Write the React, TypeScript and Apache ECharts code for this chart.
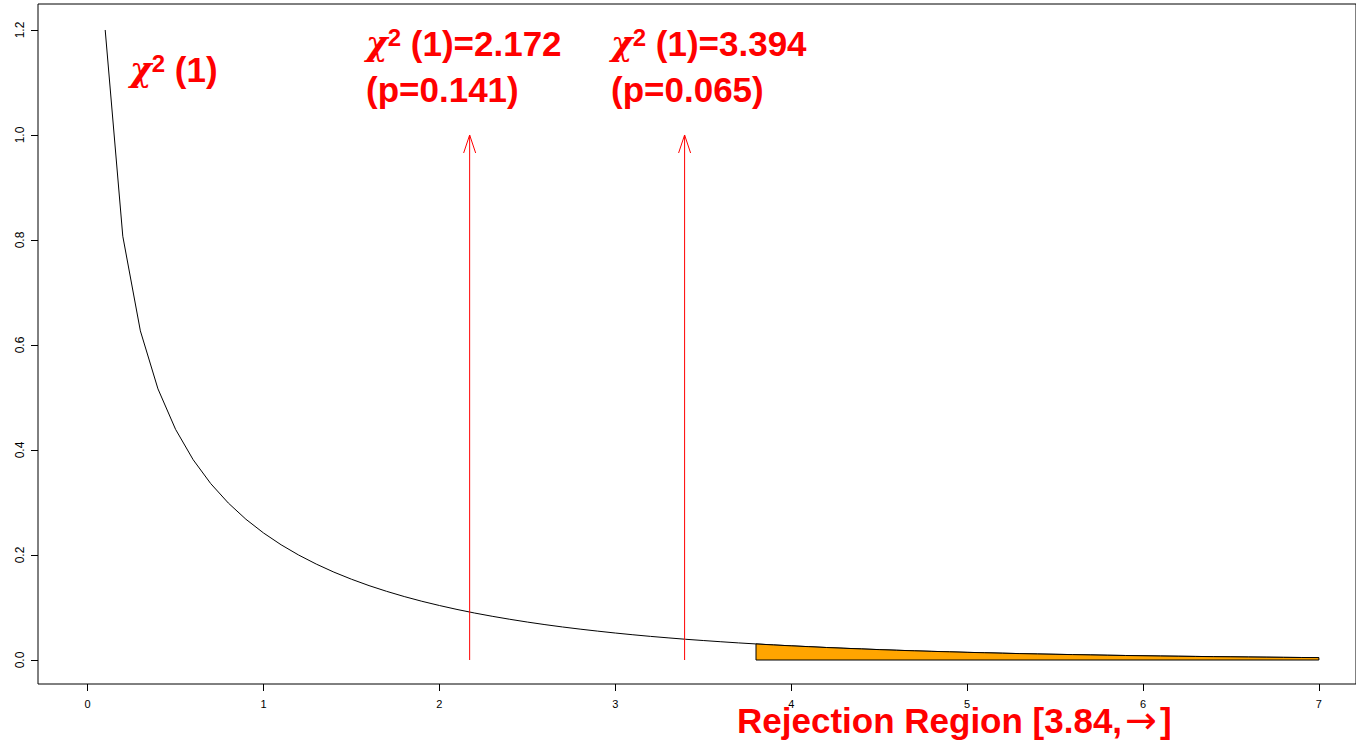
import { useEffect, useRef } from "react";
import * as echarts from "echarts";

// chi-square(1) density
const curveX = [
  0.1, 0.2, 0.3, 0.4, 0.5, 0.6, 0.7, 0.8, 0.9, 1.0,
  1.1, 1.2, 1.3, 1.4, 1.5, 1.6, 1.7, 1.8, 1.9, 2.0,
  2.1, 2.2, 2.3, 2.4, 2.5, 2.6, 2.7, 2.8, 2.9, 3.0,
  3.1, 3.2, 3.3, 3.4, 3.5, 3.6, 3.7, 3.8, 3.9, 4.0,
  4.1, 4.2, 4.3, 4.4, 4.5, 4.6, 4.7, 4.8, 4.9, 5.0,
  5.1, 5.2, 5.3, 5.4, 5.5, 5.6, 5.7, 5.8, 5.9, 6.0,
  6.1, 6.2, 6.3, 6.4, 6.5, 6.6, 6.7, 6.8, 6.9, 7.0,
];
const curveY = [
  1.2, 0.8072, 0.6269, 0.5164, 0.4394, 0.3815, 0.336, 0.299, 0.2681, 0.242,
  0.2195, 0.1999, 0.1827, 0.1674, 0.1539, 0.1417, 0.1308, 0.1209, 0.1119, 0.1038,
  0.0963, 0.0895, 0.0833, 0.0776, 0.0723, 0.0674, 0.0629, 0.0588, 0.055, 0.0514,
  0.0481, 0.045, 0.0422, 0.0395, 0.0371, 0.0348, 0.0326, 0.0306, 0.0287, 0.027,
  0.0254, 0.0238, 0.0224, 0.0211, 0.0198, 0.0186, 0.0175, 0.0165, 0.0156, 0.0146,
  0.0138, 0.013, 0.0122, 0.0115, 0.0109, 0.0103, 0.0097, 0.0091, 0.0086, 0.0081,
  0.0076, 0.0072, 0.0068, 0.0064, 0.0061, 0.0057, 0.0054, 0.0051, 0.0048, 0.0046,
];
const xTicks = [0, 1, 2, 3, 4, 5, 6, 7];
const yTicks = [0, 0.2, 0.4, 0.6, 0.8, 1.0, 1.2];
const statValues = [2.172, 3.394];
const pValues = ["0.141", "0.065"];
const statLabels = ["2.172", "3.394"];
const arrowTop = 1.0;
const rejectionStart = 3.8;
const criticalValue = "3.84";
const dfLabel = "1";

const RED = "#ff0000";
const FONT = '"Liberation Sans", Arial, Helvetica, sans-serif';
const GREEK = '"DejaVu Serif", "DejaVu Sans", serif';

export default function App() {
  const ref = useRef<HTMLDivElement>(null);

  useEffect(() => {
    if (!ref.current) return;
    const chart = echarts.init(ref.current, null, { renderer: "svg" });

    const curveData = curveX.map((x, i) => [x, curveY[i]]);
    const rejectData = curveData.filter((d) => d[0] >= rejectionStart - 1e-9);
    const arrowData = statValues.map((v) => [v, 0, arrowTop]);

    const rich = {
      c: { fontSize: 33, fontWeight: "bold", fontStyle: "italic", fontFamily: GREEK, fill: RED, color: RED },
      s: { fontSize: 24, fontWeight: "bold", fontFamily: FONT, fill: RED, color: RED, verticalAlign: "top" },
      n: { fontSize: 35, fontWeight: "bold", fontFamily: FONT, fill: RED, color: RED },
      a: {
        fontSize: 38,
        fontWeight: "normal",
        fontFamily: '"DejaVu Sans", sans-serif',
        fill: RED,
        color: RED,
        lineHeight: 35,
        padding: [0, 3, 0, 3],
      },
    };

    const richText = (text: string, x: number, y: number) => ({
      type: "text",
      x,
      y,
      style: {
        text,
        rich,
        fill: RED,
        fontSize: 35,
        fontWeight: "bold",
        fontFamily: FONT,
        verticalAlign: "middle",
        align: "left",
      },
    });

    const statX = [366, 611];

    chart.setOption({
      animation: false,
      backgroundColor: "#ffffff",
      grid: {
        left: 38,
        top: 4,
        right: 0,
        bottom: 60,
        show: true,
        borderColor: "#000",
        borderWidth: 1,
        backgroundColor: "transparent",
      },
      xAxis: {
        type: "value",
        min: -0.282,
        max: 7.211,
        axisLine: { show: false, onZero: false },
        splitLine: { show: false },
        axisTick: {
          show: true,
          customValues: xTicks,
          length: 7,
          lineStyle: { color: "#000", width: 1 },
        },
        axisLabel: {
          customValues: xTicks,
          color: "#000",
          fontSize: 11,
          fontFamily: FONT,
          margin: 14,
        },
      },
      yAxis: {
        type: "value",
        min: -0.0457,
        max: 1.2495,
        axisLine: { show: false, onZero: false },
        splitLine: { show: false },
        axisTick: {
          show: true,
          customValues: yTicks,
          length: 7,
          lineStyle: { color: "#000", width: 1 },
        },
        axisLabel: {
          customValues: yTicks,
          formatter: (v: number) => v.toFixed(1),
          color: "#000",
          fontSize: 12,
          fontFamily: FONT,
          rotate: 90,
          margin: 12,
        },
      },
      series: [
        {
          type: "custom",
          name: "rejection",
          data: rejectData,
          encode: { x: 0, y: 1 },
          z: 3,
          renderItem: (params: any, api: any) => {
            if (params.dataIndex !== 0) return { type: "group", children: [] };
            const first = rejectData[0];
            const last = rejectData[rejectData.length - 1];
            const pts = [
              api.coord([first[0], 0]),
              ...rejectData.map((d) => api.coord(d)),
              api.coord([last[0], 0]),
            ];
            return {
              type: "polygon",
              shape: { points: pts },
              style: { fill: "#FFA500", stroke: "#000", lineWidth: 1 },
            };
          },
        },
        {
          type: "line",
          name: "density",
          data: curveData,
          showSymbol: false,
          symbol: "none",
          z: 2,
          lineStyle: { color: "#000", width: 1 },
        },
        {
          type: "custom",
          name: "arrows",
          data: arrowData,
          encode: { x: 0, y: [1, 2] },
          z: 4,
          renderItem: (_params: any, api: any) => {
            const b = api.coord([api.value(0), api.value(1)]);
            const t = api.coord([api.value(0), api.value(2)]);
            const st = { stroke: RED, lineWidth: 1 };
            return {
              type: "group",
              children: [
                { type: "line", shape: { x1: b[0], y1: b[1], x2: t[0], y2: t[1] }, style: st },
                { type: "line", shape: { x1: t[0], y1: t[1], x2: t[0] - 6, y2: t[1] + 18 }, style: st },
                { type: "line", shape: { x1: t[0], y1: t[1], x2: t[0] + 6, y2: t[1] + 18 }, style: st },
              ],
            };
          },
        },
      ],
      graphic: [
        richText(`{c|χ}{s|2}{n| (${dfLabel})}`, 130, 69),
        ...statLabels.map((s, i) => richText(`{c|χ}{s|2}{n| (${dfLabel})=${s}}`, statX[i], 43)),
        ...pValues.map((p, i) => richText(`{n|(p=${p})}`, statX[i], 89)),
        richText(`{n|Rejection Region [${criticalValue},}{a|→}{n|]}`, 737, 720),
      ],
    });

    return () => chart.dispose();
  }, []);

  return (
    <div
      ref={ref}
      style={{ position: "fixed", left: 0, top: 0, width: 1356, height: 744, background: "#fff" }}
    />
  );
}
